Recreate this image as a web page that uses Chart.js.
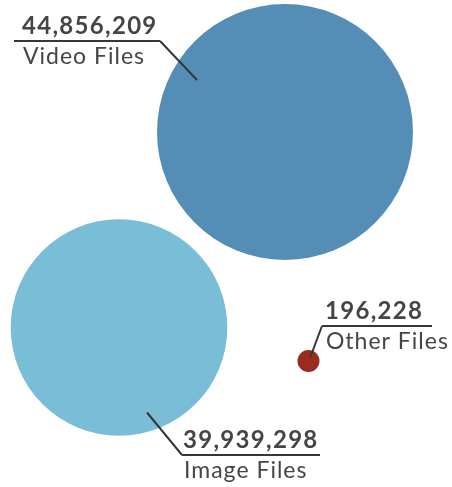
<!DOCTYPE html>
<html>
<head>
<meta charset="utf-8">
<script src="https://cdn.jsdelivr.net/npm/chart.js@4.4.1/dist/chart.umd.min.js"></script>
<style>
  html, body { margin: 0; padding: 0; background: #fff; overflow: hidden; }
  #wrap { width: 452px; height: 487px; }
</style>
</head>
<body>
<div id="wrap"><canvas id="bubbles"></canvas></div>
<script>
// Data
const categories = ['Video Files', 'Image Files', 'Other Files'];
const fileCounts = [44856209, 39939298, 196228];

// Packed layout of the bubbles (canvas units)
const bubbleX = [285, 119, 308.5];
const bubbleY = [132, 327.5, 361];

// Styles
const bubbleColors = ['#548eb6', '#7abdd6', '#9a2b20'];
const textColor = '#454545';
const leaderColor = '#363636';
const maxRadius = 128;
const minRadius = 11;
const maxCount = Math.max(...fileCounts);

const radiusFor = function (v) {
    return Math.max(minRadius, maxRadius * Math.pow(v / maxCount, 1.44));
};

// Label placement: horizontal rule, elbow end, tip offset from bubble centre
const labelLayout = [
    {lineY: 41, x1: 14, x2: 160, textX: 22, elbow: 'x2', tip: [-88, -52]},
    {lineY: 455, x1: 182, x2: 320, textX: 183, elbow: 'x1', tip: [28, 85]},
    {lineY: 326, x1: 322, x2: 432, textX: 325, elbow: 'x1', tip: [1.5, -3]},
];

// Draw the leader lines and text
const bubbleLabels = {
    id: 'bubbleLabels',
    afterDatasetsDraw(chart) {
        const {ctx} = chart;
        const meta = chart.getDatasetMeta(0);
        ctx.save();
        meta.data.forEach(function (pt, i) {
            const l = labelLayout[i];
            const ex = l[l.elbow];
            ctx.strokeStyle = leaderColor;
            ctx.lineWidth = 2;
            ctx.lineCap = 'butt';
            ctx.beginPath();
            ctx.moveTo(pt.x + l.tip[0], pt.y + l.tip[1]);
            ctx.lineTo(ex, l.lineY);
            ctx.moveTo(l.x1, l.lineY);
            ctx.lineTo(l.x2, l.lineY);
            ctx.stroke();

            ctx.fillStyle = textColor;
            ctx.textBaseline = 'alphabetic';
            ctx.textAlign = 'left';
            ctx.font = 'bold 24px Lato';
            ctx.letterSpacing = '1.3px';
            ctx.fillText(fileCounts[i].toLocaleString('en-US'), l.textX, l.lineY - 7.5);
            ctx.font = '23px Lato';
            ctx.letterSpacing = '1px';
            ctx.fillText(categories[i], l.textX + 1, l.lineY + 22.5);
        });
        ctx.restore();
    }
};

const data = {
    labels: categories,
    datasets: [{
        data: fileCounts.map(function (v, i) {
            return {x: bubbleX[i], y: bubbleY[i], r: radiusFor(v)};
        }),
        backgroundColor: bubbleColors,
        borderWidth: 0,
        hoverRadius: 0,
        clip: false,
    }],
};

const config = {
    type: 'bubble',
    data: data,
    plugins: [bubbleLabels],
    options: {
        responsive: true,
        maintainAspectRatio: false,
        animation: false,
        events: [],
        layout: {padding: 0, autoPadding: false},
        plugins: {
            legend: {display: false},
            title: {display: false},
            tooltip: {enabled: false},
        },
        scales: {
            x: {type: 'linear', min: 0, max: 452, display: false},
            y: {type: 'linear', min: 0, max: 487, reverse: true, display: false},
        },
    },
};

const bubbleChart = new Chart(document.getElementById('bubbles'), config);
</script>
</body>
</html>
